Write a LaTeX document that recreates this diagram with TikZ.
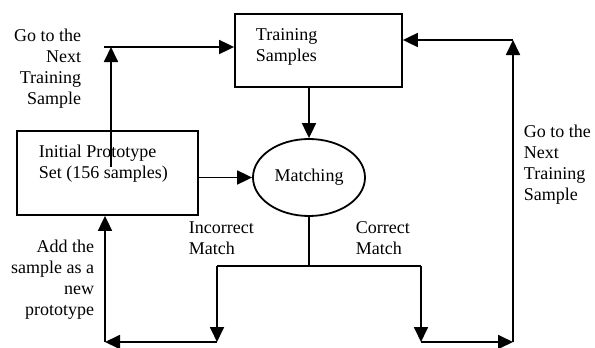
\documentclass[tikz,border=0pt]{standalone}
\usepackage{fontspec}
\setmainfont{Liberation Serif}
\usetikzlibrary{arrows.meta, positioning, shapes, calc}

\begin{document}
\begin{tikzpicture}[x=1pt, y=-1pt, line width=1.8pt,
    box/.style={draw, rectangle, inner sep=0pt},
    txt/.style={inner sep=0pt, font=\fontsize{18}{21}\selectfont},
    arr/.style={-{Triangle[length=15pt, width=14pt]}}]
    \useasboundingbox (0,0) rectangle (595,348);

    % Boxes and the matching step
    \node[box, minimum width=167pt, minimum height=73pt] (train) at (318.5,50.5) {};
    \node[txt, align=left, anchor=west] (trainText) at (255,46.5) {Training\\Samples};
    \node[box, minimum width=181pt, minimum height=84pt] (init) at (107.5,173) {};
    \node[txt, align=left, anchor=west] (initText) at (38,164) {Initial Prototype\\Set (156 samples)};
    \node[draw, ellipse, inner sep=0pt, minimum width=112pt, minimum height=77pt,
          txt] (match) at (309,177.5) {Matching};

    % Labels
    \node[txt, align=right, anchor=east] (nextL) at (82,68.5) {Go to the\\Next\\Training\\Sample};
    \node[txt, align=left, anchor=west] (nextR) at (523,164.5) {Go to the\\Next\\Training\\Sample};
    \node[txt, align=right, anchor=east] (addL) at (95,279.5) {Add the\\sample as a\\new\\prototype};
    \node[txt, align=left, anchor=west] (wrongL) at (188,238) {Incorrect\\Match};
    \node[txt, align=left, anchor=west] (rightL) at (355,238.5) {Correct\\Match};

    % Bends of the loops
    \coordinate (startUp) at (111,167);
    \coordinate (upTop) at (111,47);
    \coordinate (upLeft) at (104,47);
    \coordinate (split) at (309,266);
    \coordinate (wrongTop) at (217,266);
    \coordinate (wrongEnd) at (217,342);
    \coordinate (rightTop) at (421,266);
    \coordinate (rightEnd) at (421,342);
    \coordinate (addCorner) at (105,342);
    \coordinate (nextCorner) at (513,342);
    \coordinate (nextTop) at (513,40);

    % Plain lines
    \draw (match.south) -- (split);
    \draw (wrongTop) -- (rightTop);

    % Arrows
    \foreach \from/\to in {match.north |- train.south/match.north,
                           init.east |- match/match.west,
                           startUp/upTop, upLeft/train.west |- upLeft,
                           wrongTop/wrongEnd, rightTop/rightEnd,
                           wrongEnd/addCorner, addCorner/init.south -| addCorner,
                           rightEnd/nextCorner, nextCorner/nextTop,
                           nextTop/train.east |- nextTop} {
        \draw[arr] (\from) -- (\to);
    }
\end{tikzpicture}
\end{document}
